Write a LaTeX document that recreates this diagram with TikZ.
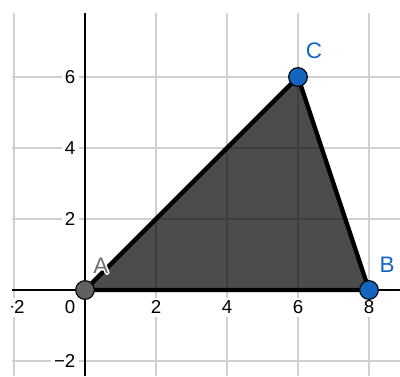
\documentclass[tikz,border=0pt]{standalone}
\usepackage{fontspec}
\setmainfont{Liberation Sans}
\usepackage{contour}
\contourlength{1.2pt}
\contournumber{8}
\usetikzlibrary{positioning}
\definecolor{gridgray}{HTML}{D0D0D0}
\definecolor{ptblue}{HTML}{1565C0}
\definecolor{ptgray}{HTML}{616161}
\definecolor{labgray}{HTML}{707070}

\begin{document}
\begin{tikzpicture}[
  ticklab/.style={fill=white, inner sep=2.5pt, font=\fontsize{15}{17}\selectfont},
  pt/.style={circle, draw=black, line width=0.9pt, minimum size=15pt, inner sep=0pt},
  ptlab/.style={font=\fontsize{18}{21}\selectfont}]
  \useasboundingbox (-2.394,-2.423) rectangle (8.873,8.169);
  % grid, axes and numbers
  \begin{scope}
    \clip (-2.056,-2.423) rectangle (8.873,7.803);
    \draw[gridgray, line width=1.2pt] (-2.056,-2.423) grid[step=2] (8.873,7.803);
    \foreach \x in {-2,2,4,6,8}
      \node[ticklab, anchor=north] (xl\x) at ([yshift=-6pt]\x,0) {\ifnum\x<0 −\number-\x\else\x\fi};
    \foreach \y in {-2,2,4,6}
      \node[ticklab, anchor=east] (yl\y) at ([xshift=-5pt]0,\y) {\ifnum\y<0 −\number-\y\else\y\fi};
    \node[ticklab, anchor=north east] (origin) at ([xshift=-5pt, yshift=-6pt]0,0) {0};
    \draw[black, line width=1.3pt] (-2.056,0) -- (8.873,0);
    \draw[black, line width=1.3pt] (0,-2.423) -- (0,7.803);
  \end{scope}
  % triangle
  \coordinate (A) at (0,0);
  \coordinate (B) at (8,0);
  \coordinate (C) at (6,6);
  \fill[black, fill opacity=0.7] (A) -- (B) -- (C) -- cycle;
  \draw[black, line width=3.5pt, line join=round] (A) -- (B) -- (C) -- cycle;
  \node[pt, fill=ptgray] (ptA) at (A) {};
  \node[pt, fill=ptblue] (ptB) at (B) {};
  \node[pt, fill=ptblue] (ptC) at (C) {};
  \node[ptlab] (labA) at ([shift={(0.45,0.65)}]A) {\contour{white}{\textcolor{labgray}{A}}};
  \node[ptlab, text=ptblue] (labB) at ([shift={(0.51,0.70)}]B) {B};
  \node[ptlab, text=ptblue] (labC) at ([shift={(0.45,0.73)}]C) {C};
\end{tikzpicture}
\end{document}
